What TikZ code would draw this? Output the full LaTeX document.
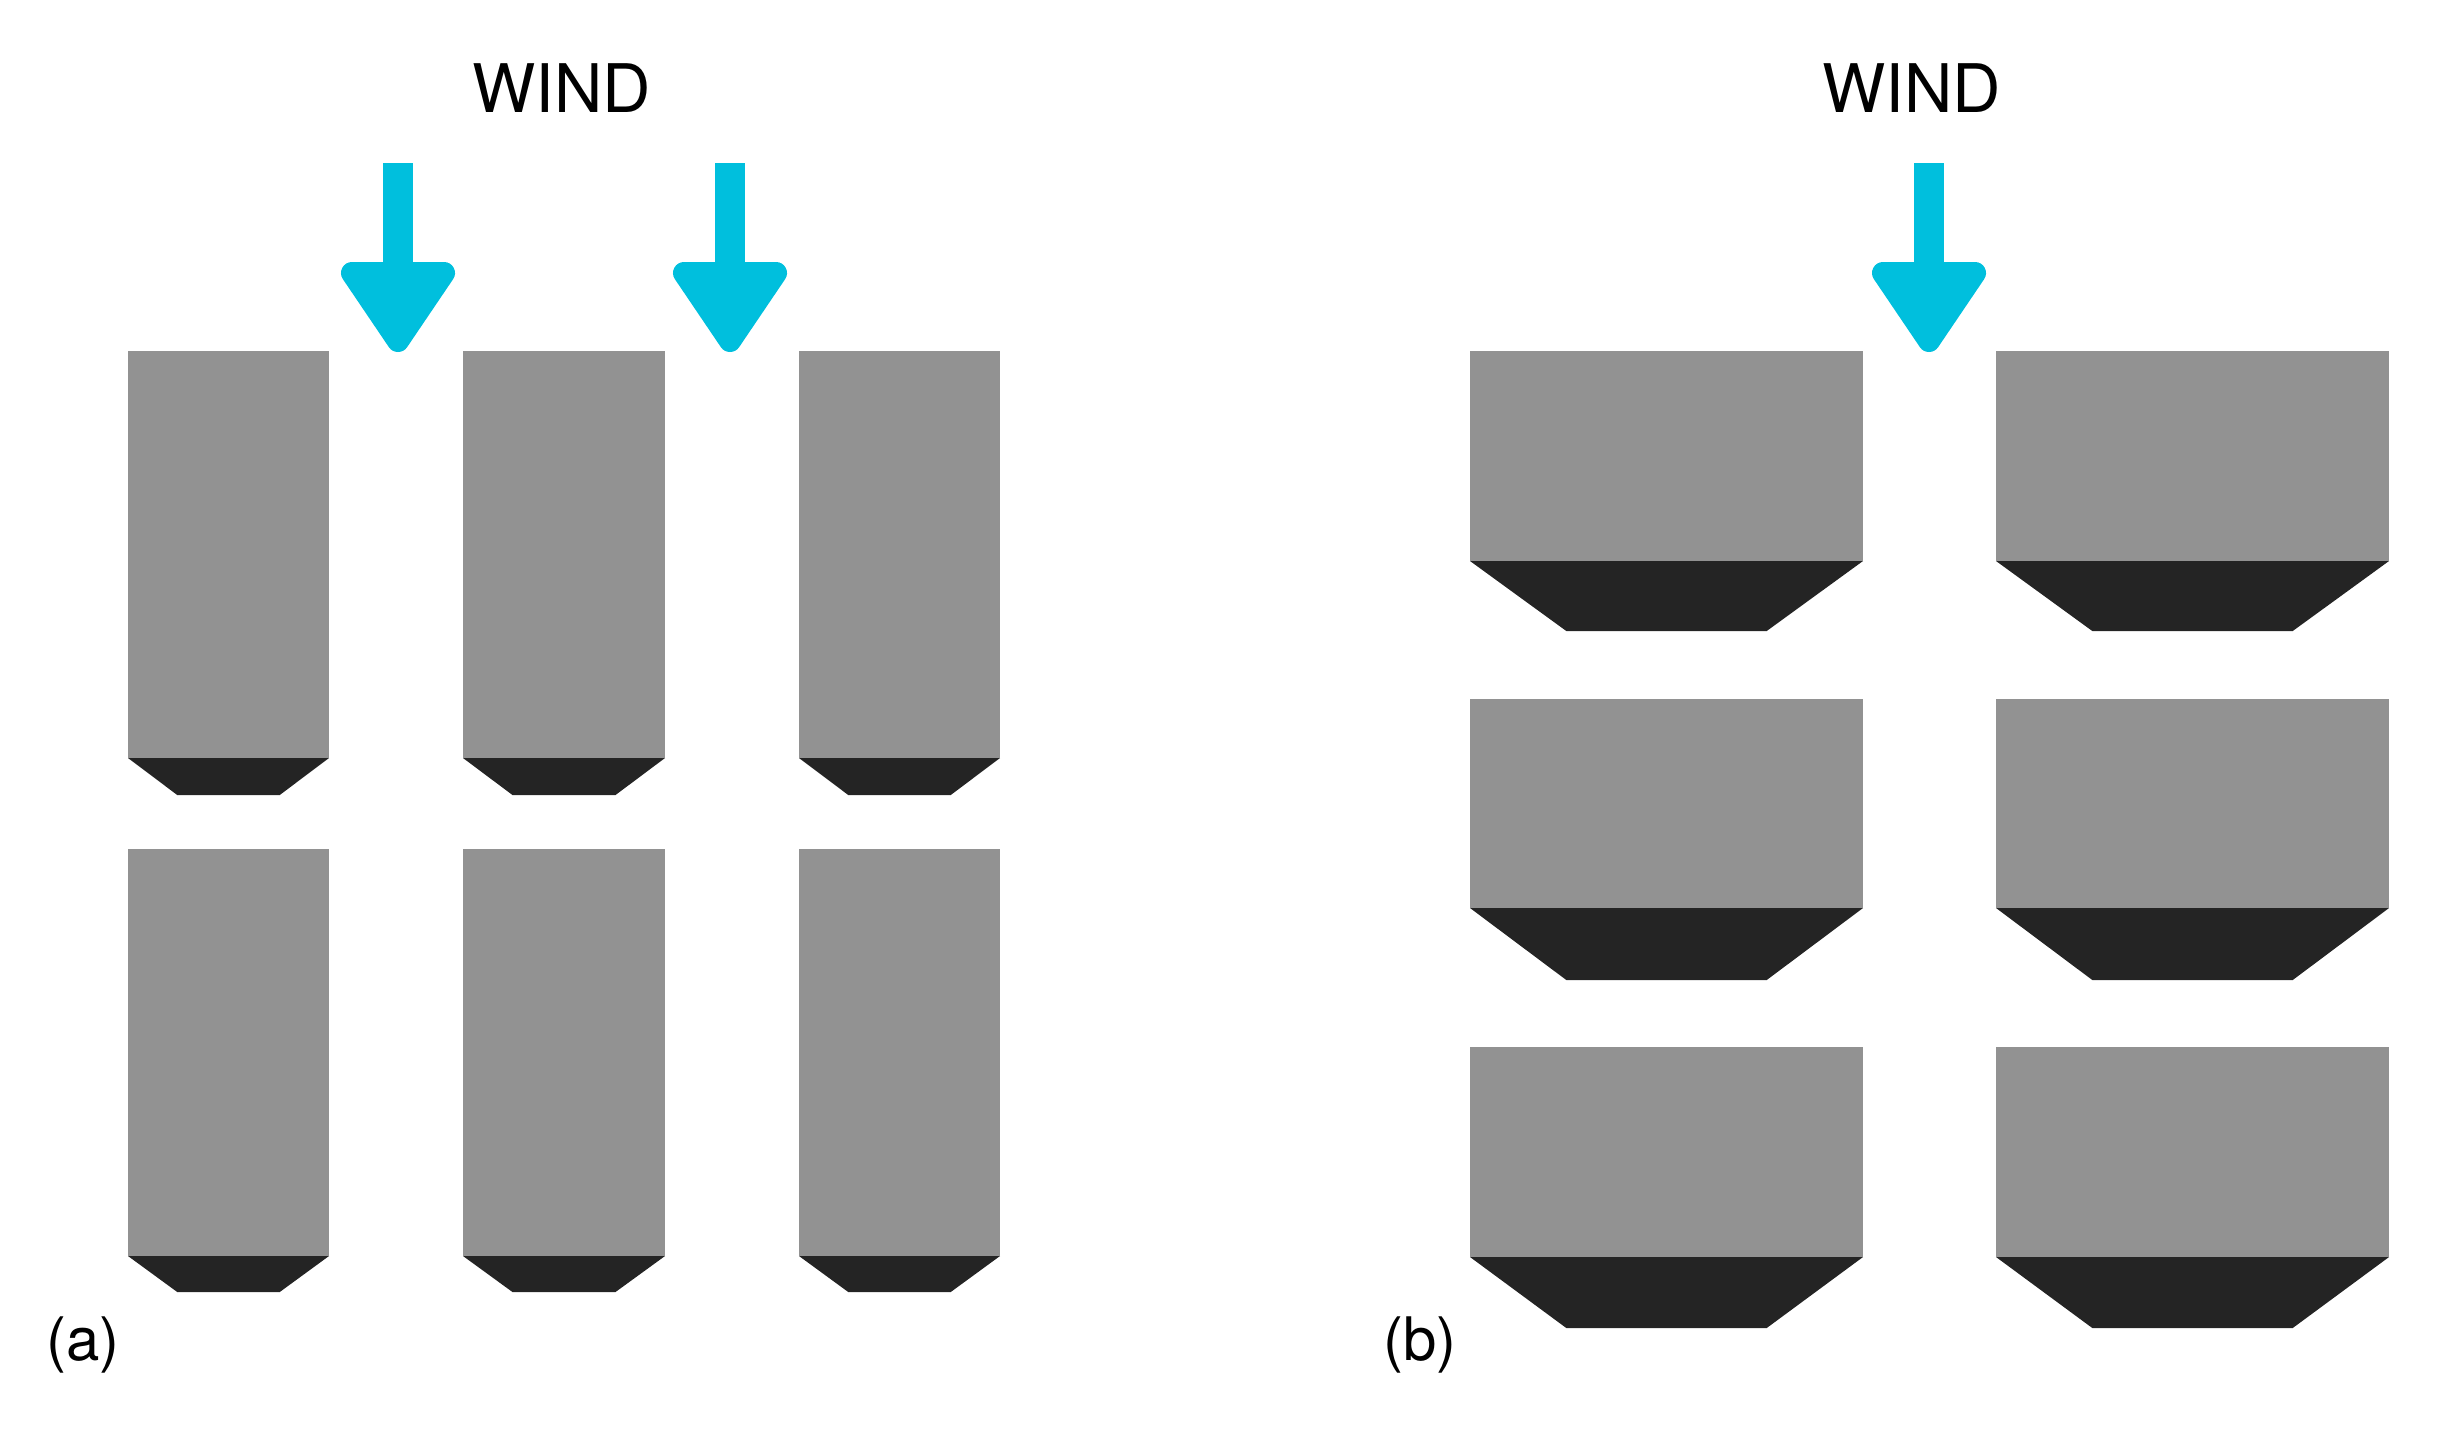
\documentclass[tikz,border=0pt]{standalone}
\usepackage{fontspec}
\setmainfont{TeX Gyre Heros}
\definecolor{wallgray}{HTML}{929292}
\definecolor{walldark}{HTML}{242424}
\definecolor{windcyan}{HTML}{00BFDD}
\tikzset{
  wall/.style={fill=wallgray,draw=none},
  lee/.style={fill=walldark,draw=none},
  windshaft/.style={fill=windcyan,draw=none},
  windhead/.style={fill=windcyan,draw=windcyan,line width=11pt,line join=round},
  lbl/.style={inner sep=0pt,text=black,font=\fontsize{33.5}{33.5}\selectfont},
  caplbl/.style={inner sep=0pt,text=black,font=\fontsize{30}{30}\selectfont},
  pics/block/.style args={#1/#2/#3/#4/#5}{code={
    % left / right / top / split / bottom
    \fill[wall] (#1,#3) rectangle (#2,#4);
    \pgfmathsetmacro{\ins}{0.245*(#2-#1)}
    \fill[lee] (#1,#4) -- (#2,#4) -- ({#2-\ins},#5) -- ({#1+\ins},#5) -- cycle;
  }},
  pics/windarrow/.style={code={
    \fill[windshaft] (#1-15,163) rectangle (#1+15,270);
    \path[windhead] (#1-46,273) -- (#1+46,273) -- (#1,341) -- cycle;
  }}
}
\begin{document}
\begin{tikzpicture}[x=0.5pt,y=-0.5pt]
\useasboundingbox (0,0) rectangle (2455,1435);
% panel (a)
\foreach \l/\r in {128/329,463/665,799/1000}{
  \pic {block={\l/\r/351/758/795}};
  \pic {block={\l/\r/849/1256/1292}};
}
% panel (b)
\foreach \l/\r in {1470/1863,1996/2389}{
  \pic {block={\l/\r/351/561/631}};
  \pic {block={\l/\r/699/908/980}};
  \pic {block={\l/\r/1047/1257/1328}};
}
% arrows
\pic {windarrow=398};
\pic {windarrow=730};
\pic {windarrow=1929};
% labels
\node[lbl] (windA) at (562,88) {WIND};
\node[lbl] (windB) at (1912,88) {WIND};
\node[caplbl] (capA) at (83,1345) {(a)};
\node[caplbl] (capB) at (1420,1345) {(b)};
\end{tikzpicture}
\end{document}
